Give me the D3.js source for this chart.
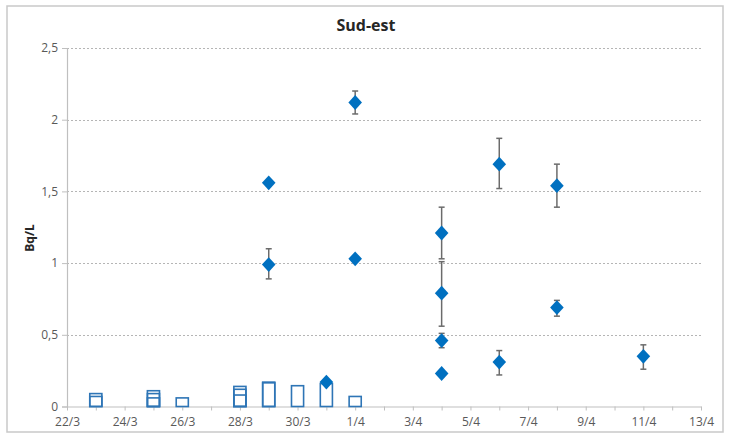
<!DOCTYPE html>
<html>
<head>
<meta charset="utf-8">
<script src="https://cdn.jsdelivr.net/npm/d3@7"></script>
<style>
  html, body { margin: 0; padding: 0; background: #fff; }
  svg { display: block; }
  text { font-family: "Open Sans", "Noto Sans", sans-serif; }
</style>
</head>
<body>
<svg id="chart" width="731" height="434"></svg>
<script>
// ---- data ----
const chartTitle = "Sud-est";
const yLabel = "Bq/L";
const xStart = "2011-03-22";
const xEnd = "2011-04-13";
const yTicks = [0, 0.5, 1, 1.5, 2, 2.5];

// measured values (diamonds) with error bar bounds (null = no error bar)
const pointDates = ["2011-03-29", "2011-03-29", "2011-03-31", "2011-04-01", "2011-04-01",
                    "2011-04-04", "2011-04-04", "2011-04-04", "2011-04-04",
                    "2011-04-06", "2011-04-06", "2011-04-08", "2011-04-08", "2011-04-11"];
const pointValues = [1.56, 0.99, 0.17, 2.12, 1.03, 1.21, 0.79, 0.46, 0.23, 1.69, 0.31, 1.54, 0.69, 0.35];
const errLow  = [null, 0.89, null, 2.04, null, 1.03, 0.56, 0.41, null, 1.52, 0.22, 1.39, 0.63, 0.26];
const errHigh = [null, 1.10, null, 2.20, null, 1.39, 1.01, 0.51, null, 1.87, 0.39, 1.69, 0.74, 0.43];

// detection limits (hollow bars)
const barDates = ["2011-03-23", "2011-03-23", "2011-03-25", "2011-03-25", "2011-03-25", "2011-03-26",
                  "2011-03-28", "2011-03-28", "2011-03-28", "2011-03-29", "2011-03-29",
                  "2011-03-30", "2011-03-31", "2011-04-01"];
const barValues = [0.09, 0.07, 0.11, 0.09, 0.06, 0.06, 0.14, 0.12, 0.08, 0.17, 0.165, 0.145, 0.16, 0.07];

// ---- chart ----
const svg = d3.select("#chart");
const plot = { left: 67, right: 701, top: 48, bottom: 406.5 };
const blue = "#0070c0";
const barBlue = "#2e75b6";
const parse = d3.utcParse("%Y-%m-%d");

// outer frame
svg.append("rect")
  .attr("x", 7).attr("y", 6).attr("width", 716).attr("height", 426)
  .attr("fill", "#fff").attr("stroke", "#c9c9c9").attr("stroke-width", 1.5);

const x = d3.scaleUtc().domain([parse(xStart), parse(xEnd)]).range([plot.left, plot.right]);
const y = d3.scaleLinear().domain([0, 2.5]).range([plot.bottom, plot.top]);
const dayW = x(parse("2011-03-23")) - x(parse("2011-03-22"));

const fmtNum = v => String(v).replace(".", ",");

// gridlines
svg.append("g")
  .selectAll("line")
  .data(yTicks.filter(d => d > 0))
  .join("line")
  .attr("x1", plot.left).attr("x2", plot.right)
  .attr("y1", d => Math.round(y(d)) + 0.5).attr("y2", d => Math.round(y(d)) + 0.5)
  .attr("stroke", "#b5b5b5").attr("stroke-width", 1)
  .attr("stroke-dasharray", "2,2");

// y axis
const yAxis = svg.append("g")
  .attr("transform", `translate(${plot.left},0)`)
  .call(d3.axisLeft(y).tickValues(yTicks).tickFormat(fmtNum).tickSize(5).tickPadding(4));
yAxis.select(".domain").attr("stroke", "#bfbfbf").attr("stroke-width", 1.2);
yAxis.selectAll(".tick line").attr("stroke", "#bfbfbf");
yAxis.selectAll(".tick text").attr("fill", "#595959").style("font-size", "12px");

// x axis
const startD = parse(xStart);
const xAxis = svg.append("g")
  .attr("transform", `translate(0,${plot.bottom})`)
  .call(d3.axisBottom(x)
    .ticks(d3.utcDay.every(1))
    .tickFormat(d => {
      const off = Math.round((d - startD) / 86400000);
      return off % 2 === 0 ? d3.utcFormat("%-d/%-m")(d) : "";
    })
    .tickSize(4).tickPadding(7).tickSizeOuter(0));
xAxis.select(".domain").attr("stroke", "#bfbfbf").attr("stroke-width", 1.2);
xAxis.selectAll(".tick line").attr("stroke", "#bfbfbf");
xAxis.selectAll(".tick text").attr("fill", "#595959").style("font-size", "12px");

// hollow bars
const bw = dayW * 0.42;
svg.append("g")
  .selectAll("rect")
  .data(barDates.map((d, i) => ({ date: parse(d), v: barValues[i] })))
  .join("rect")
  .attr("x", d => x(d.date) - bw / 2)
  .attr("y", d => y(d.v))
  .attr("width", bw)
  .attr("height", d => y(0) - y(d.v))
  .attr("fill", "none")
  .attr("stroke", barBlue).attr("stroke-width", 1.6);

// points
const pts = pointDates.map((d, i) => ({ date: parse(d), v: pointValues[i], lo: errLow[i], hi: errHigh[i] }));

// error bars
const eb = svg.append("g").attr("stroke", "#6b6b6b").attr("stroke-width", 1.5);
pts.filter(p => p.lo != null).forEach(p => {
  const cx = x(p.date);
  eb.append("line").attr("x1", cx).attr("x2", cx).attr("y1", y(p.lo)).attr("y2", y(p.hi));
  eb.append("line").attr("x1", cx - 3).attr("x2", cx + 3).attr("y1", y(p.lo)).attr("y2", y(p.lo));
  eb.append("line").attr("x1", cx - 3).attr("x2", cx + 3).attr("y1", y(p.hi)).attr("y2", y(p.hi));
});

// diamonds
const hw = 6.8, hh = 7.4;
svg.append("g")
  .selectAll("path")
  .data(pts)
  .join("path")
  .attr("d", `M0,${-hh}L${hw},0L0,${hh}L${-hw},0Z`)
  .attr("transform", d => `translate(${x(d.date)},${y(d.v)})`)
  .attr("fill", blue);

// title
svg.append("text")
  .attr("x", 366).attr("y", 31)
  .attr("text-anchor", "middle")
  .attr("fill", "#262626")
  .style("font-size", "16px").style("font-weight", "bold")
  .text(chartTitle);

// y label
svg.append("text")
  .attr("transform", `translate(34,238) rotate(-90)`)
  .attr("text-anchor", "middle")
  .attr("fill", "#262626")
  .style("font-size", "12px").style("font-weight", "bold")
  .text(yLabel);
</script>
</body>
</html>
